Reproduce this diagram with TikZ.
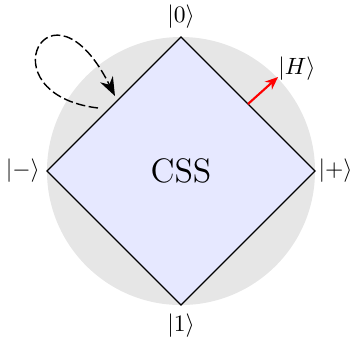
\documentclass[tikz,border=0pt]{standalone}
\usetikzlibrary{arrows.meta, positioning}

\begin{document}
\begin{tikzpicture}

% ---------------------------------------------------------------- colours
\definecolor{discgray}{HTML}{E6E6E6}   % the disc behind everything
\definecolor{cssfill}{HTML}{E6E8FF}    % inside the CSS square

\tikzset{
    disc/.style={fill=discgray},
    cssbox/.style={draw=black, fill=cssfill, line width=0.5pt},
    hvec/.style={-{Stealth[length=5.5pt, width=4.5pt]}, line width=0.9pt, red},
    selfloop/.style={-{Stealth[length=8pt, width=6pt]}, line width=0.6pt,
        dash pattern=on 4pt off 1.5pt},
}

% ================================================================
% disc of radius 2, square inscribed, corners on the four axes
% ================================================================
\useasboundingbox (-2.701, -2.493) rectangle (2.537, 2.552);

\fill[disc] (0, 0) circle (2);

\coordinate (top)    at (0, 2);
\coordinate (right)  at (2, 0);
\coordinate (bottom) at (0, -2);
\coordinate (left)   at (-2, 0);

\draw[cssbox] (top) -- (right) -- (bottom) -- (left) -- cycle;
\node[font=\Large] (css) at (0, 0) {CSS};

% ---------------------------------------------------------------- kets
\node[above=0pt of top]     (ket0)     {$|0\rangle$};
\node[below=0pt of bottom]  (ket1)     {$|1\rangle$};
\node[left=-0.5pt of left]  (ketminus) {$|-\rangle$};
\node[right=-2pt of right]  (ketplus)  {$|+\rangle$};

% ----------------------------------------------------------------------
% red push off the upper right edge, from its midpoint
% ----------------------------------------------------------------------
\coordinate (edgemid) at (1, 1);
\coordinate (htip)    at (1.448, 1.403);
\draw[hvec] (edgemid) -- (htip);
\node (ketH) at (1.731, 1.530) {$|H\rangle$};

% ----------------------------------------------------------------------
% dashed loop back onto the upper left edge
% ----------------------------------------------------------------------
\coordinate (loopstart) at (-1.239, 0.940);
\coordinate (loopend)   at (-0.985, 1.119);
\draw[selfloop] (loopstart) .. controls (-2.95, 1.15) and (-1.955, 3.05) .. (loopend);

\end{tikzpicture}
\end{document}
